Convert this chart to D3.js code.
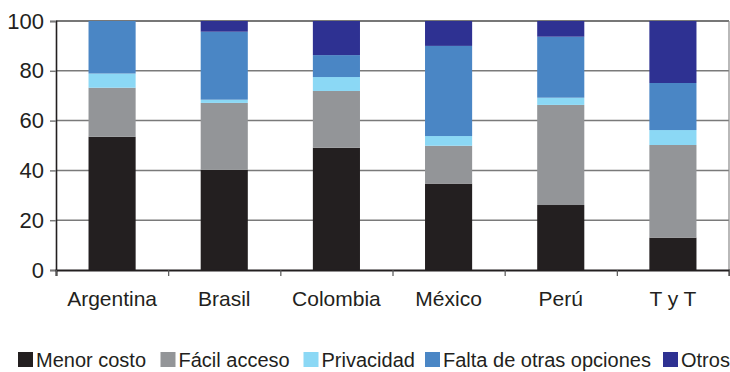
<!DOCTYPE html>
<html>
<head>
<meta charset="utf-8">
<script src="https://cdn.jsdelivr.net/npm/d3@7"></script>
<style>
  html, body { margin: 0; padding: 0; background: #fff; }
  svg { display: block; font-family: "Liberation Sans", Arial, Helvetica, sans-serif; }
</style>
</head>
<body>
<svg id="chart" width="730" height="372"></svg>
<script>
// Reasons for choosing the method, share of respondents (%) by country
const countries = ["Argentina", "Brasil", "Colombia", "México", "Perú", "T y T"];
const seriesNames = ["Menor costo", "Fácil acceso", "Privacidad", "Falta de otras opciones", "Otros"];
const menorCosto   = [53.5, 40.2, 49.1, 34.7, 26.1, 13.0];
const facilAcceso  = [19.7, 26.9, 22.8, 15.2, 40.2, 37.2];
const privacidad   = [ 5.7,  1.3,  5.6,  3.9,  2.9,  6.0];
const faltaOpciones= [21.1, 27.3,  8.8, 36.2, 24.5, 18.9];
const otros        = [ 0.0,  4.3, 13.7, 10.0,  6.3, 24.9];
const yTicks = [0, 20, 40, 60, 80, 100];
const colors = ["#231f20", "#939598", "#8bd8f5", "#4a86c5", "#2e3192"];

const seriesValues = [menorCosto, facilAcceso, privacidad, faltaOpciones, otros];
const rows = countries.map((c, i) => {
  const r = { country: c };
  seriesNames.forEach((s, k) => { r[s] = seriesValues[k][i]; });
  return r;
});

const svg = d3.select("#chart");
const plotLeft = 56, plotRight = 729, plotTop = 21, plotBottom = 270;
const FONT = "'Liberation Sans', Arial, sans-serif";

const x = d3.scaleBand().domain(countries).range([plotLeft, plotRight])
  .paddingInner(0.58).paddingOuter(0.29);
const y = d3.scaleLinear().domain([0, 100]).range([plotBottom, plotTop]);

// horizontal gridlines
svg.append("g").selectAll("line")
  .data(yTicks.filter(t => t > 0 && t < 100))
  .join("line")
  .attr("x1", plotLeft).attr("x2", plotRight)
  .attr("y1", d => y(d)).attr("y2", d => y(d))
  .attr("stroke", "#7a7a7a").attr("stroke-width", 1.5);

// frame: top and right edges
svg.append("line").attr("x1", plotLeft).attr("x2", plotRight)
  .attr("y1", y(100)).attr("y2", y(100))
  .attr("stroke", "#4a4a4a").attr("stroke-width", 1.5);
svg.append("line").attr("x1", plotRight).attr("x2", plotRight)
  .attr("y1", y(100)).attr("y2", y(0))
  .attr("stroke", "#8a8a8a").attr("stroke-width", 1.2);

// stacked bars
const stack = d3.stack().keys(seriesNames);
const layers = stack(rows);
svg.append("g").selectAll("g")
  .data(layers)
  .join("g")
  .attr("fill", (d, i) => colors[i])
  .selectAll("rect")
  .data(d => d)
  .join("rect")
  .attr("x", d => x(d.data.country))
  .attr("width", x.bandwidth())
  .attr("y", d => y(d[1]))
  .attr("height", d => Math.max(0, y(d[0]) - y(d[1])));

// y axis
const yAxis = svg.append("g")
  .attr("transform", `translate(${plotLeft},0)`)
  .call(d3.axisLeft(y).tickValues(yTicks).tickSize(6).tickPadding(6));
yAxis.select(".domain").attr("stroke", "#231f20").attr("stroke-width", 1.6);
yAxis.selectAll(".tick line").attr("stroke", "#7a7a7a").attr("stroke-width", 1.5);
yAxis.selectAll(".tick text")
  .attr("font-size", 22).attr("fill", "#231f20").attr("font-family", FONT);

// x axis: boundary ticks between categories
const boundary = d3.scaleLinear().domain([0, countries.length]).range([plotLeft, plotRight]);
const xTicks = svg.append("g")
  .attr("transform", `translate(0,${plotBottom})`)
  .call(d3.axisBottom(boundary).tickValues(d3.range(countries.length + 1))
    .tickSize(6).tickFormat(""));
xTicks.select(".domain").attr("stroke", "#231f20").attr("stroke-width", 2);
xTicks.selectAll(".tick line").attr("stroke", "#555").attr("stroke-width", 1.2);

// x axis category labels
const xLabels = svg.append("g")
  .attr("transform", `translate(0,${plotBottom})`)
  .call(d3.axisBottom(x).tickSize(0).tickPadding(21));
xLabels.select(".domain").remove();
xLabels.selectAll(".tick text")
  .attr("font-size", 21).attr("fill", "#231f20").attr("font-family", FONT);

// legend: one swatch + label per series, in a single row
const legendX = [18, 160.5, 303.5, 425, 663];
const legend = svg.append("g").attr("transform", "translate(0,367)");
seriesNames.forEach((name, i) => {
  const g = legend.append("g").attr("transform", `translate(${legendX[i]},0)`);
  g.append("rect").attr("x", 0).attr("y", -15).attr("width", 15).attr("height", 15)
    .attr("fill", colors[i]);
  g.append("text").attr("x", 18).attr("y", 0)
    .attr("font-size", 20).attr("fill", "#231f20").attr("font-family", FONT)
    .attr("textLength", null).text(name);
});
</script>
</body>
</html>
